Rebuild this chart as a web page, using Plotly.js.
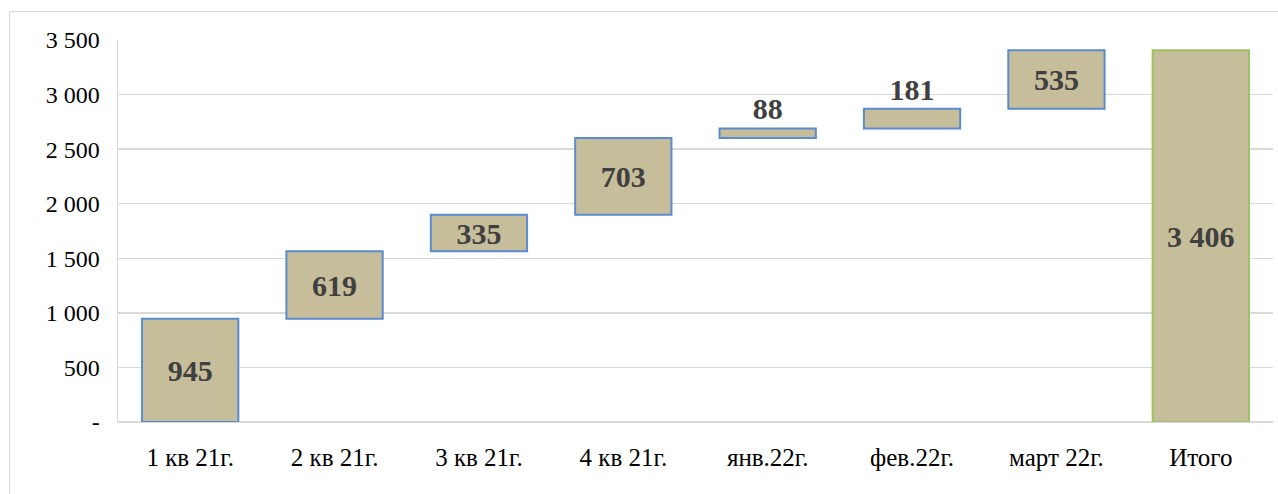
<!DOCTYPE html>
<html>
<head>
<meta charset="utf-8">
<script src="https://cdn.plot.ly/plotly-3.0.1.min.js"></script>
<style>
  html, body { margin: 0; padding: 0; background: #ffffff; }
  #frame { position: absolute; left: 9px; top: 11px; width: 1300px; height: 600px; border: 1.5px solid #d9d9d9; }
  #chart { position: absolute; left: 0; top: 0; width: 1278px; height: 494px; }
</style>
</head>
<body>
<div id="frame"></div>
<div id="chart"></div>
<script>
const categories = ['1 кв 21г.', '2 кв 21г.', '3 кв 21г.', '4 кв 21г.', 'янв.22г.', 'фев.22г.', 'март 22г.', 'Итого'];
const values = [945, 619, 335, 703, 88, 181, 535, 3406];
const measures = ['relative', 'relative', 'relative', 'relative', 'relative', 'relative', 'relative', 'total'];
const labelPositions = ['inside', 'inside', 'inside', 'inside', 'outside', 'outside', 'inside', 'inside'];
const tickValues = [0, 500, 1000, 1500, 2000, 2500, 3000, 3500];

function fmt(v) {
  if (v === 0) return '-';
  return String(v).replace(/\B(?=(\d{3})+(?!\d))/g, ' ');
}

const fill = '#c6bd9a';
const trace = {
  type: 'waterfall',
  x: categories,
  y: values,
  measure: measures,
  text: values.map(fmt),
  textposition: labelPositions,
  insidetextanchor: 'middle',
  constraintext: 'none',
  cliponaxis: false,
  textfont: { family: 'Liberation Serif, Times New Roman, serif', size: 30, color: '#404040', weight: 'bold' },
  increasing: { marker: { color: fill, line: { color: '#5b8bd0', width: 2 } } },
  decreasing: { marker: { color: fill, line: { color: '#5b8bd0', width: 2 } } },
  totals: { marker: { color: fill, line: { color: '#9bc263', width: 2 } } },
  connector: { visible: false },
  hoverinfo: 'x+y'
};

const layout = {
  width: 1278,
  height: 494,
  margin: { l: 118, r: 5, t: 40, b: 72 },
  paper_bgcolor: 'rgba(0,0,0,0)',
  plot_bgcolor: 'rgba(0,0,0,0)',
  waterfallgap: 0.333,
  showlegend: false,
  font: { family: 'Liberation Serif, Times New Roman, serif', color: '#000000' },
  xaxis: {
    type: 'category',
    tickfont: { size: 25, color: '#000000' },
    showgrid: false,
    showline: false,
    ticks: '',
    ticklabelstandoff: 18
  },
  yaxis: {
    range: [0, 3500],
    tickvals: tickValues,
    ticktext: tickValues.map(fmt),
    tickfont: { size: 24, color: '#000000' },
    showgrid: true,
    gridcolor: '#d9d9d9',
    gridwidth: 1.5,
    zeroline: true,
    zerolinecolor: '#d9d9d9',
    zerolinewidth: 1.5,
    showline: true,
    linecolor: '#d9d9d9',
    linewidth: 1.5,
    ticks: '',
    ticklabelstandoff: 12
  }
};

Plotly.newPlot('chart', [trace], layout, { displayModeBar: false, staticPlot: true });
</script>
</body>
</html>
